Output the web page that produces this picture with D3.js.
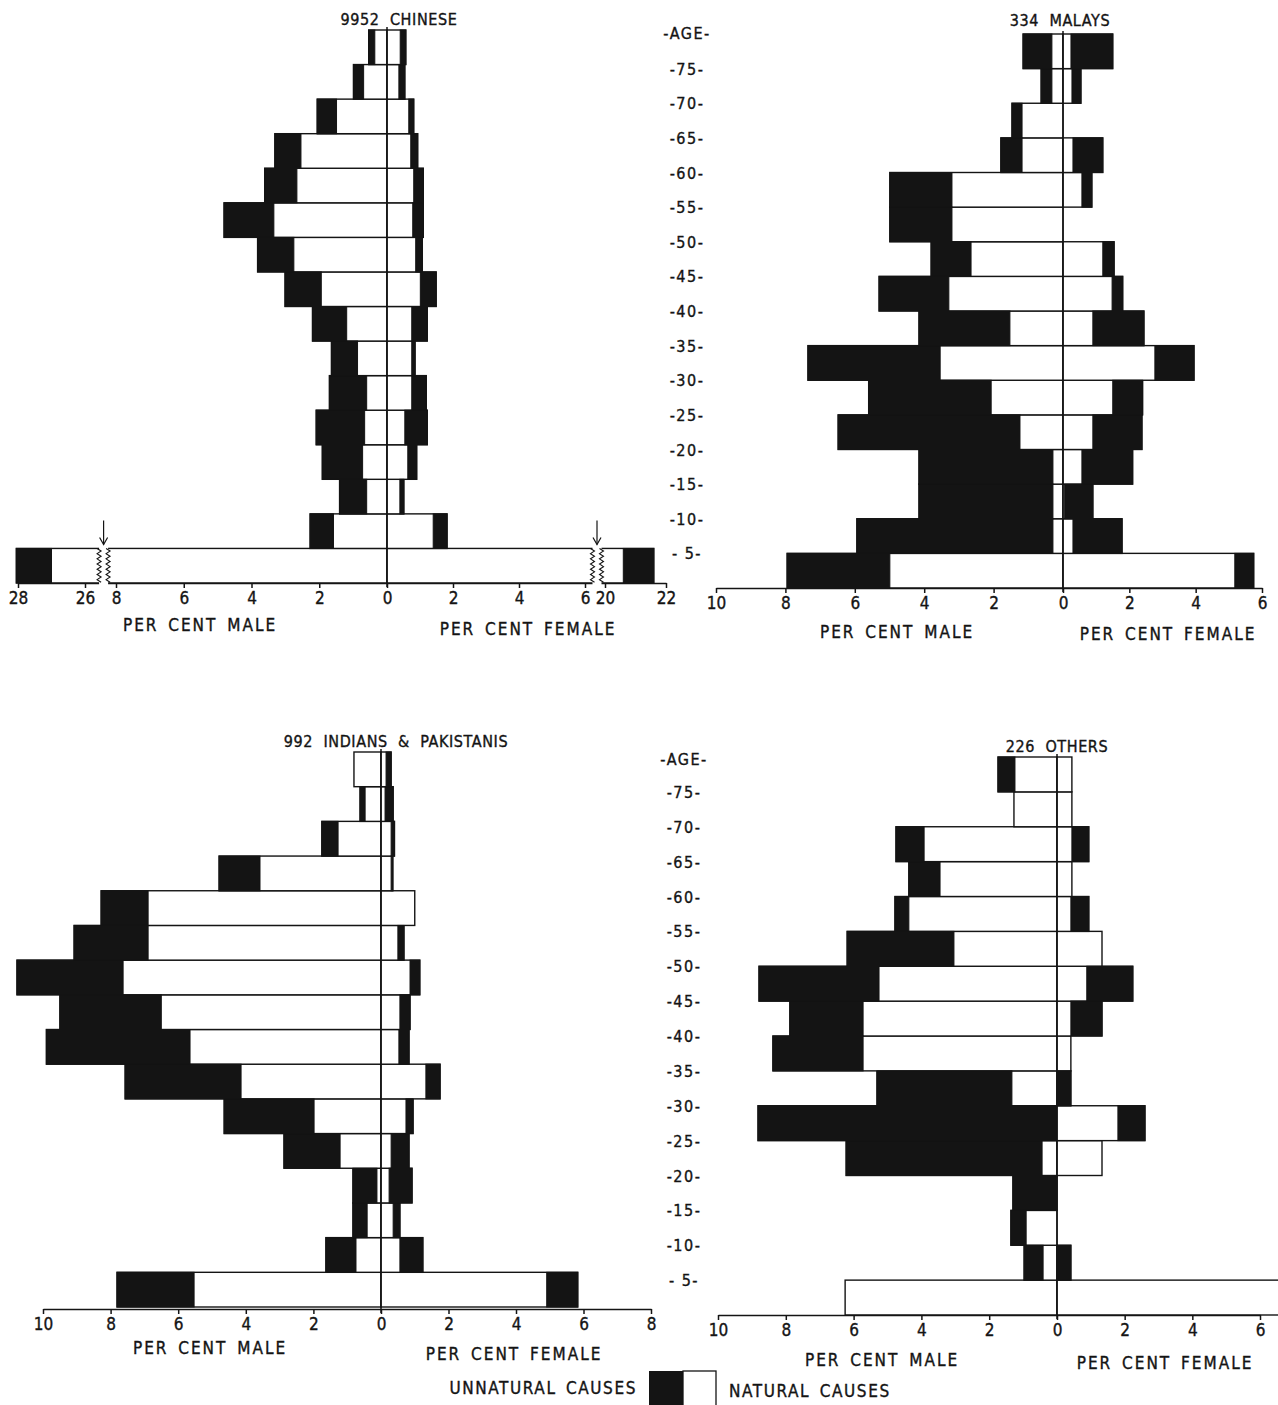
<!DOCTYPE html>
<html>
<head>
<meta charset="utf-8">
<script src="https://cdn.jsdelivr.net/npm/d3@7"></script>
<style>
  body { margin: 0; background: #fff; }
  text { font-family: "DejaVu Sans Condensed", "Liberation Sans Narrow", "DejaVu Sans", sans-serif;
         fill: #141414; stroke: #141414; stroke-width: 0.35; }
</style>
</head>
<body>
<script>
// age groups, bottom (0-5) to top (75+)
const ages = ["0-5", "5-10", "10-15", "15-20", "20-25", "25-30", "30-35", "35-40",
  "40-45", "45-50", "50-55", "55-60", "60-65", "65-70", "70-75", "75+"];
const ageBreaks = [5, 10, 15, 20, 25, 30, 35, 40, 45, 50, 55, 60, 65, 70, 75];

// per cent of deaths, natural / unnatural, male and female
const chineseMaleNat = [27.0, 1.58, 0.6, 0.72, 0.66, 0.6, 0.87, 1.19, 1.94, 2.75, 3.34, 2.66, 2.54, 1.49, 0.69, 0.36];
const chineseMaleUnn = [1.05, 0.69, 0.8, 1.19, 1.43, 1.1, 0.77, 1.01, 1.07, 1.07, 1.47, 0.95, 0.77, 0.57, 0.3, 0.18];
const chineseFemNat = [20.6, 1.4, 0.39, 0.63, 0.54, 0.75, 0.75, 0.75, 1.01, 0.87, 0.78, 0.81, 0.72, 0.66, 0.36, 0.4];
const chineseFemUnn = [1.0, 0.42, 0.12, 0.27, 0.68, 0.44, 0.1, 0.47, 0.48, 0.2, 0.32, 0.29, 0.21, 0.15, 0.18, 0.17];

const malayMaleNat = [4.99, 0.29, 0.29, 0.29, 1.24, 2.07, 3.54, 1.53, 3.29, 2.65, 3.2, 3.2, 1.18, 1.18, 0.32, 0.32];
const malayMaleUnn = [2.96, 5.65, 3.86, 3.86, 5.24, 3.53, 3.81, 2.62, 2.01, 1.15, 1.79, 1.79, 0.61, 0.29, 0.31, 0.83];
const malayFemNat = [5.18, 0.3, 0.05, 0.57, 0.9, 1.5, 2.77, 0.9, 1.48, 1.2, 0, 0.57, 0.3, 0, 0.27, 0.24];
const malayFemUnn = [0.57, 1.48, 0.85, 1.53, 1.48, 0.9, 1.18, 1.54, 0.32, 0.34, 0, 0.3, 0.9, 0, 0.27, 1.26];

const indianMaleNat = [5.53, 0.74, 0.41, 0.12, 1.21, 1.98, 4.14, 5.65, 6.5, 7.63, 6.89, 6.89, 3.58, 1.27, 0.47, 0.8];
const indianMaleUnn = [2.28, 0.89, 0.42, 0.71, 1.66, 2.66, 3.43, 4.25, 3.0, 3.14, 2.19, 1.39, 1.21, 0.48, 0.15, 0];
const indianFemNat = [4.91, 0.56, 0.36, 0.24, 0.3, 0.74, 1.33, 0.53, 0.56, 0.86, 0.5, 1.0, 0.3, 0.3, 0.12, 0.15];
const indianFemUnn = [0.92, 0.68, 0.2, 0.68, 0.53, 0.21, 0.42, 0.3, 0.3, 0.29, 0.18, 0, 0.05, 0.1, 0.24, 0.15];

const otherMaleNat = [6.25, 0.41, 0.91, 0, 0.44, 0, 1.33, 5.72, 5.72, 5.25, 3.04, 4.37, 3.45, 3.92, 1.27, 1.24];
const otherMaleUnn = [0, 0.56, 0.45, 1.3, 5.78, 8.82, 3.98, 2.66, 2.16, 3.54, 3.15, 0.41, 0.92, 0.83, 0, 0.5];
const otherFemNat = [6.6, 0, 0, 0, 1.33, 1.8, 0, 0.41, 0.41, 0.88, 1.33, 0.41, 0.44, 0.44, 0.44, 0.44];
const otherFemUnn = [0, 0.41, 0, 0, 0, 0.8, 0.41, 0, 0.92, 1.36, 0, 0.53, 0, 0.5, 0, 0];

// tick values (negative = male side)
const chineseTicks = [-28, -26, -8, -6, -4, -2, 0, 2, 4, 6, 20, 22];
const malayTicks = [-10, -8, -6, -4, -2, 0, 2, 4, 6];
const indianTicks = [-10, -8, -6, -4, -2, 0, 2, 4, 6, 8];
const otherTicks = [-10, -8, -6, -4, -2, 0, 2, 4, 6];

const W = 1278, H = 1405;
const ink = "#141414";

const svg = d3.select("body").append("svg")
  .attr("width", W).attr("height", H)
  .style("display", "block");

function drawPanel(p) {
  const x = d3.scaleLinear().domain(p.xDomain).range(p.xRange);
  const y = d3.scaleBand().domain(ages).range([p.yBottom, p.yTop]);
  const bw = y.bandwidth();
  const rows = ages.map((a, i) => ({
    age: a, mn: p.maleNat[i], mu: p.maleUnn[i], fn: p.femNat[i], fu: p.femUnn[i]
  }));
  const g = svg.append("g");

  // male bars (left)
  g.selectAll(".m").data(rows.filter(d => d.mn + d.mu > 0)).join("rect")
    .attr("x", d => x(-(d.mn + d.mu)))
    .attr("y", d => y(d.age))
    .attr("width", d => x(0) - x(-(d.mn + d.mu)))
    .attr("height", bw)
    .attr("fill", "#fff").attr("stroke", ink).attr("stroke-width", 1.4);
  g.selectAll(".mu").data(rows.filter(d => d.mu > 0)).join("rect")
    .attr("x", d => x(-(d.mn + d.mu)))
    .attr("y", d => y(d.age))
    .attr("width", d => x(-d.mn) - x(-(d.mn + d.mu)))
    .attr("height", bw)
    .attr("fill", ink).attr("stroke", ink).attr("stroke-width", 1);

  // female bars (right)
  g.selectAll(".f").data(rows.filter(d => d.fn + d.fu > 0)).join("rect")
    .attr("x", x(0))
    .attr("y", d => y(d.age))
    .attr("width", d => x(d.fn + d.fu) - x(0))
    .attr("height", bw)
    .attr("fill", "#fff").attr("stroke", ink).attr("stroke-width", 1.4);
  g.selectAll(".fu").data(rows.filter(d => d.fu > 0)).join("rect")
    .attr("x", d => x(d.fn))
    .attr("y", d => y(d.age))
    .attr("width", d => x(d.fn + d.fu) - x(d.fn))
    .attr("height", bw)
    .attr("fill", ink).attr("stroke", ink).attr("stroke-width", 1);

  // centre line
  g.append("line")
    .attr("x1", x(0)).attr("x2", x(0))
    .attr("y1", p.yTop - 3).attr("y2", p.axisY + 4)
    .attr("stroke", ink).attr("stroke-width", 1.5);

  // axis
  const ax = g.append("g")
    .attr("transform", `translate(0,${p.axisY})`)
    .call(d3.axisBottom(x).tickValues(p.ticks).tickFormat(d => Math.abs(d))
      .tickSize(5).tickSizeOuter(0).tickPadding(4));
  ax.attr("font-family", null).attr("font-size", null);
  ax.select(".domain").attr("stroke", ink).attr("stroke-width", 1.5);
  ax.selectAll(".tick line").attr("stroke", ink).attr("stroke-width", 1.5);
  ax.selectAll(".tick text").attr("font-size", 17).attr("fill", ink);

  // title and side labels
  g.append("text").attr("x", p.title[1]).attr("y", p.title[2])
    .attr("text-anchor", "middle").attr("font-size", 16)
    .attr("letter-spacing", 0.6).style("white-space", "pre")
    .text(p.title[0]);
  g.append("text").attr("x", p.maleLabel[0]).attr("y", p.maleLabel[1])
    .attr("text-anchor", "middle").attr("font-size", 17)
    .attr("letter-spacing", 2).attr("word-spacing", 3)
    .text("PER CENT MALE");
  g.append("text").attr("x", p.femLabel[0]).attr("y", p.femLabel[1])
    .attr("text-anchor", "middle").attr("font-size", 17)
    .attr("letter-spacing", 2).attr("word-spacing", 3)
    .text("PER CENT FEMALE");

  return { g, x, y, bw };
}

function zigzag(xc, y0, y1) {
  const pts = [];
  let k = 0;
  for (let yy = y0; yy <= y1; yy += 2.6) pts.push([xc + (k++ % 2 ? 2 : -2), yy]);
  return d3.line()(pts);
}

function breakMark(g, xc, y0, y1) {
  g.append("rect").attr("x", xc - 4.5).attr("y", y0 - 2)
    .attr("width", 9).attr("height", y1 - y0 + 6).attr("fill", "#fff");
  [xc - 4.5, xc + 4.5].forEach(xx => g.append("path")
    .attr("d", zigzag(xx, y0, y1)).attr("fill", "none")
    .attr("stroke", ink).attr("stroke-width", 1.1));
  // arrow pointing at the break
  g.append("line").attr("x1", xc).attr("x2", xc).attr("y1", y0 - 28).attr("y2", y0 - 4)
    .attr("stroke", ink).attr("stroke-width", 1.2);
  g.append("path").attr("d", `M${xc - 4},${y0 - 11} L${xc},${y0 - 4} L${xc + 4},${y0 - 11}`)
    .attr("fill", "none").attr("stroke", ink).attr("stroke-width", 1.2);
}

// Chinese (broken scale for the 0-5 group)
const chinese = drawPanel({
  title: ["9952  CHINESE", 399, 25],
  maleNat: chineseMaleNat, maleUnn: chineseMaleUnn, femNat: chineseFemNat, femUnn: chineseFemUnn,
  xDomain: [-28, -26, -8, 0, 6, 20, 22], xRange: [18, 85, 116, 387, 585, 605, 666],
  yTop: 30, yBottom: 583, axisY: 583, ticks: chineseTicks,
  maleLabel: [200, 631], femLabel: [528, 635]
});
{
  const yb = chinese.y("0-5");
  const xm = chinese.x(-26) + (chinese.x(-8) - chinese.x(-26)) * 0.6;
  const xf = chinese.x(6) + (chinese.x(20) - chinese.x(6)) * 0.6;
  breakMark(chinese.g, xm, yb, yb + chinese.bw);
  breakMark(chinese.g, xf, yb, yb + chinese.bw);
}

const malays = drawPanel({
  title: ["334  MALAYS", 1060, 26],
  maleNat: malayMaleNat, maleUnn: malayMaleUnn, femNat: malayFemNat, femUnn: malayFemUnn,
  xDomain: [-10, 0, 6], xRange: [716, 1063, 1262],
  yTop: 34, yBottom: 588, axisY: 588, ticks: malayTicks,
  maleLabel: [897, 638], femLabel: [1168, 640]
});

const indians = drawPanel({
  title: ["992  INDIANS  &  PAKISTANIS", 396, 747],
  maleNat: indianMaleNat, maleUnn: indianMaleUnn, femNat: indianFemNat, femUnn: indianFemUnn,
  xDomain: [-10, 0, 8], xRange: [43, 381, 651],
  yTop: 752, yBottom: 1307, axisY: 1309, ticks: indianTicks,
  maleLabel: [210, 1354], femLabel: [514, 1360]
});

const others = drawPanel({
  title: ["226  OTHERS", 1057, 752],
  maleNat: otherMaleNat, maleUnn: otherMaleUnn, femNat: otherFemNat, femUnn: otherFemUnn,
  xDomain: [-10, 0, 6], xRange: [718, 1057, 1260],
  yTop: 757, yBottom: 1315, axisY: 1315, ticks: otherTicks,
  maleLabel: [882, 1366], femLabel: [1165, 1369]
});

// age column labels, placed on the row boundaries
function ageColumn(panel, cx, topY) {
  const labels = svg.append("g");
  labels.append("text").attr("x", cx).attr("y", topY + 6)
    .attr("text-anchor", "middle").attr("font-size", 16).attr("letter-spacing", 1.5)
    .text("-AGE-");
  labels.selectAll(".age").data(ageBreaks).join("text")
    .attr("x", cx)
    .attr("y", (d, i) => panel.y(ages[i + 1]) + panel.bw + 6)
    .attr("text-anchor", "middle").attr("font-size", 16).attr("letter-spacing", 1.5)
    .style("white-space", "pre")
    .text(d => d < 10 ? `- ${d}-` : `-${d}-`);
}
ageColumn(malays, 687, 33);
ageColumn(others, 684, 759);

// legend
const legend = svg.append("g");
legend.append("rect").attr("x", 649).attr("y", 1371).attr("width", 34).attr("height", 36)
  .attr("fill", ink);
legend.append("rect").attr("x", 683).attr("y", 1371).attr("width", 33).attr("height", 36)
  .attr("fill", "#fff").attr("stroke", ink).attr("stroke-width", 1.3);
legend.append("text").attr("x", 637).attr("y", 1394).attr("text-anchor", "end")
  .attr("font-size", 17).attr("letter-spacing", 1.6).attr("word-spacing", 3)
  .text("UNNATURAL CAUSES");
legend.append("text").attr("x", 729).attr("y", 1397)
  .attr("font-size", 17).attr("letter-spacing", 1.6).attr("word-spacing", 3)
  .text("NATURAL CAUSES");
</script>
</body>
</html>
